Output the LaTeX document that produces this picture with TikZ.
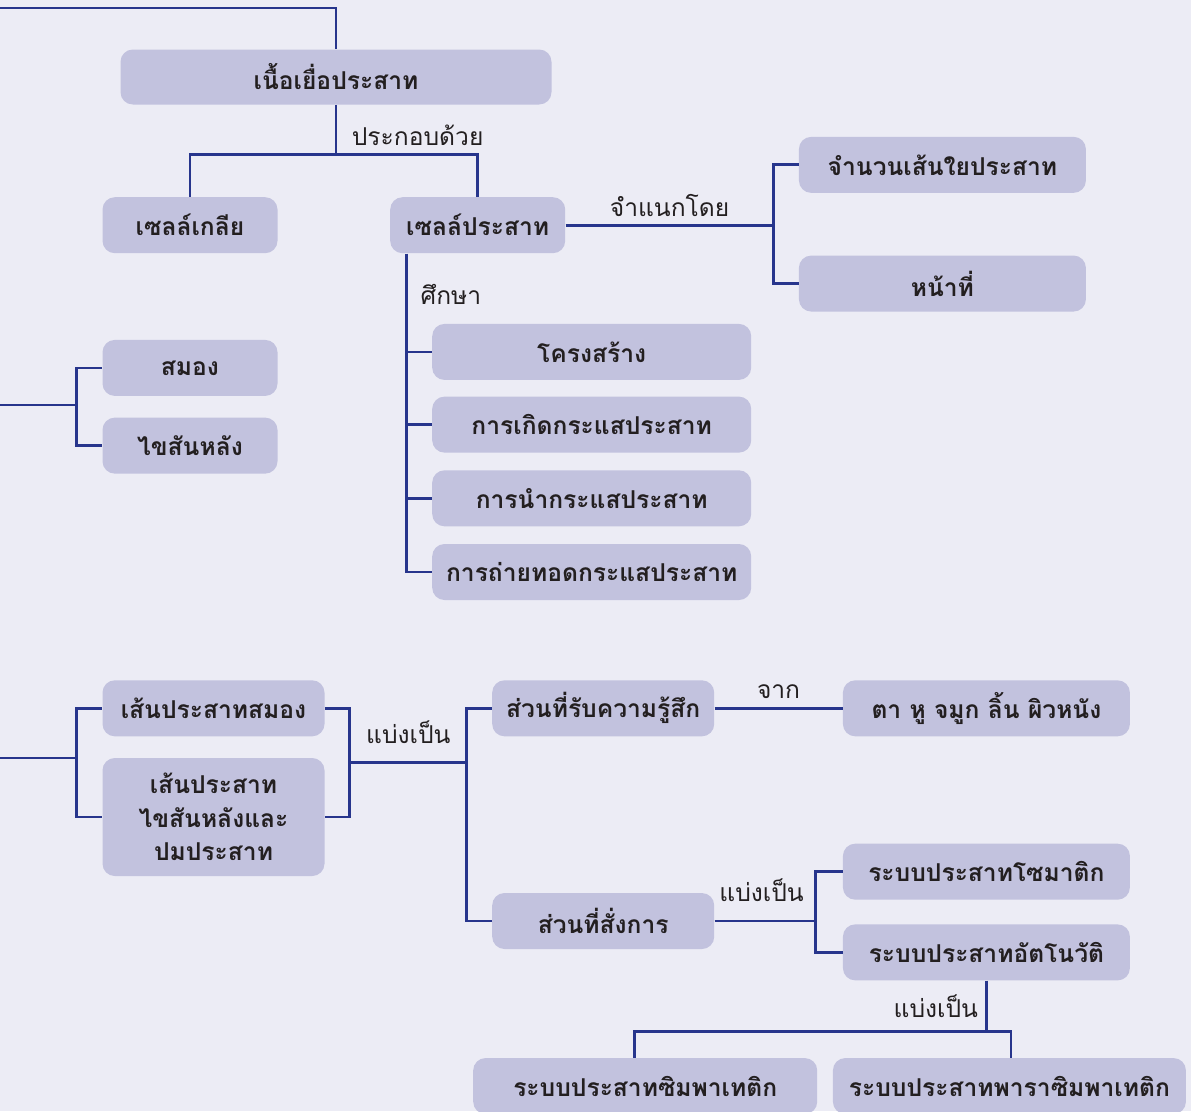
\documentclass[tikz,border=0pt]{standalone}
\usepackage{fontspec}
\newfontfamily\thaifont[Script=Thai]{Loma}
\usetikzlibrary{positioning, calc}

\definecolor{paper}{HTML}{ECECF5}
\definecolor{boxfill}{HTML}{C2C2DE}
\definecolor{navy}{HTML}{27358C}
\definecolor{ink}{HTML}{231F20}

\begin{document}
\begin{tikzpicture}[
    font=\thaifont\fontsize{14}{19}\selectfont,
    block/.style={fill=boxfill, rounded corners=7pt, minimum height=1.12cm, align=center, text=ink, font=\thaifont\bfseries\fontsize{14}{19}\selectfont},
    cellbox/.style={block, minimum width=3.5cm},
    partbox/.style={block, minimum width=4.44cm},
    classbox/.style={block, minimum width=5.74cm},
    studybox/.style={block, minimum width=6.38cm},
    link/.style={draw=navy, line width=1.6pt},
    linktext/.style={text=ink, inner sep=2pt}
  ]
    \fill[paper] (0,0) rectangle (23.82,-22.22);
    \useasboundingbox (0,0) rectangle (23.82,-22.22);

    \node[block, minimum width=8.62cm, minimum height=1.1cm] (tissue) at (6.72,-1.54) {เนื้อเยื่อประสาท};
    \node[cellbox, below=1.84cm of tissue, xshift=-2.92cm] (glia) {เซลล์เกลีย};
    \node[cellbox, right=2.24cm of glia] (neuron) {เซลล์ประสาท};
    \coordinate (topend) at (0,-0.16);
    \draw[link] (tissue.north) |- (topend);
    \draw[link] (tissue.south) -- ++(0,-1.0) coordinate (jn0);
    \draw[link] (glia.north) |- (jn0) -| (neuron.north);
    \node[linktext, anchor=west] at ([xshift=0.24cm, yshift=-0.6cm]tissue.south) {ประกอบด้วย};

    % ==========================================
    \coordinate[right=4.16cm of neuron.east] (jn1);
    \node[classbox, above right=0.64cm and 0.5cm of jn1] (fibre) {จำนวนเส้นใยประสาท};
    \node[classbox, below right=0.6cm and 0.5cm of jn1] (duty) {หน้าที่};
    \draw[link] (neuron.east) -- node[linktext, above=2pt] {จำแนกโดย} (jn1);
    \draw[link] (fibre.west) -| (jn1) |- (duty.west);

    % ==========================================
    \coordinate (st) at ([xshift=0.34cm]neuron.south west);
    \node[studybox, below right=1.4cm and 0.84cm of neuron.south west] (struct) {โครงสร้าง};
    \node[studybox, below=0.32cm of struct] (impulse) {การเกิดกระแสประสาท};
    \node[studybox, below=0.34cm of impulse] (conduct) {การนำกระแสประสาท};
    \node[studybox, below=0.34cm of conduct] (transmit) {การถ่ายทอดกระแสประสาท};
    \draw[link] (st) |- (transmit.west);
    \foreach \n in {struct, impulse, conduct}
      \draw[link] (st |- \n.west) -- (\n.west);
    \node[linktext, anchor=west] at ([xshift=0.2cm, yshift=-0.82cm]st) {ศึกษา};

    % ==========================================
    \node[cellbox, below=1.72cm of glia] (brain) {สมอง};
    \node[cellbox, below=0.42cm of brain] (spinal) {ไขสันหลัง};
    \coordinate (cnsin) at (0,-8.1);
    \coordinate (bj) at ([xshift=-0.52cm]brain.west);
    \draw[link] (cnsin) -| (bj) -- (brain.west);
    \draw[link] (bj |- cnsin) |- (spinal.west);

    % ==========================================
    \node[partbox, below right=4.12cm and 0cm of spinal.south west] (cranial) {เส้นประสาทสมอง};
    \node[partbox, minimum height=2.36cm, below=0.42cm of cranial] (spnerve) {เส้นประสาท\\ไขสันหลังและ\\ปมประสาท};
    \coordinate (pnsin) at (0,-15.16);
    \coordinate (pj) at ([xshift=-0.52cm]cranial.west);
    \draw[link] (pnsin) -| (pj) -- (cranial.west);
    \draw[link] (pj |- pnsin) |- (spnerve.west);
    \coordinate (rj) at ([xshift=0.5cm]cranial.east);
    \draw[link] (cranial.east) -- (rj) |- (spnerve.east);
    \coordinate (rjm) at ($(rj)!0.5!(rj |- spnerve.east)$);
    \coordinate (jn3) at ([xshift=2.34cm]rjm);
    \node[partbox, right=3.34cm of cranial] (sensory) {ส่วนที่รับความรู้สึก};
    \node[partbox, below=3.12cm of sensory] (motor) {ส่วนที่สั่งการ};
    \draw[link] (rjm) -- node[linktext, above=8pt] {แบ่งเป็น} (jn3);
    \draw[link] (sensory.west) -| (jn3) |- (motor.west);

    \node[classbox, right=2.56cm of sensory] (organs) {ตา หู จมูก ลิ้น ผิวหนัง};
    \draw[link] (sensory) -- node[linktext, above=3pt] {จาก} (organs);

    % ==========================================
    \coordinate[right=2.02cm of motor.east] (jn4);
    \node[classbox, above right=0.42cm and 0.54cm of jn4] (somatic) {ระบบประสาทโซมาติก};
    \node[classbox, below=0.48cm of somatic] (auto) {ระบบประสาทอัตโนวัติ};
    \draw[link] (motor.east) -- node[linktext, above=8pt, xshift=-2pt] {แบ่งเป็น} (jn4);
    \draw[link] (somatic.west) -| (jn4) |- (auto.west);

    \node[block, minimum width=6.88cm, below left=1.54cm and 0.5cm of auto.south west] (symp) {ระบบประสาทซิมพาเทติก};
    \node[block, minimum width=7.06cm, right=0.3cm of symp] (parasymp) {ระบบประสาทพาราซิมพาเทติก};
    \draw[link] (auto.south) -- node[linktext, left=2pt] {แบ่งเป็น} ++(0,-1.02) coordinate (jn5);
    \draw[link] ([xshift=-0.22cm]symp.north) |- (jn5) -| ([xshift=0.03cm]parasymp.north);

  \end{tikzpicture}
\end{document}
